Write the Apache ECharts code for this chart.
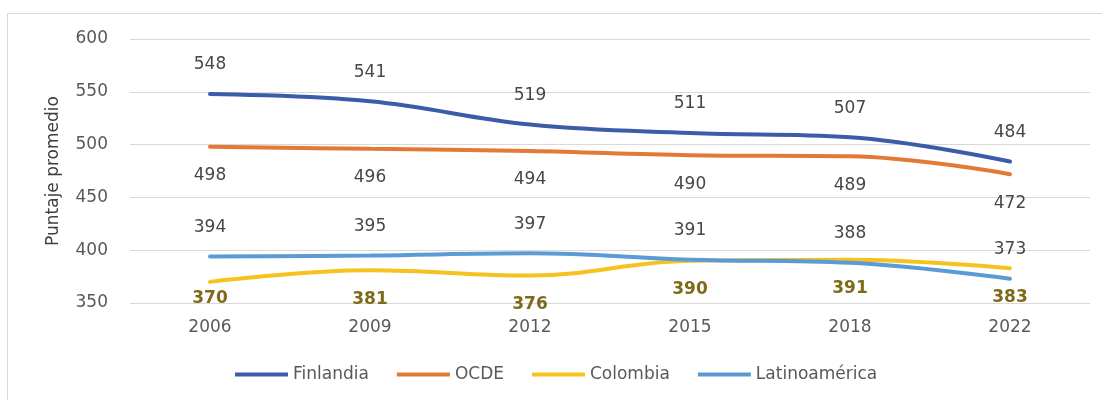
<!DOCTYPE html>
<html>
<head>
<meta charset="utf-8">
<title>Puntaje promedio PISA</title>
<script src="https://cdn.jsdelivr.net/npm/echarts@6/dist/echarts.min.js"></script>
<style>
  html, body { margin: 0; padding: 0; background: #ffffff; }
  #chart { width: 1102px; height: 400px; }
</style>
</head>
<body>
<div id="chart"></div>
<script>
// Years of each assessment round
const years = ['2006', '2009', '2012', '2015', '2018', '2022'];

// Average score per group
const finlandia = [548, 541, 519, 511, 507, 484];
const ocde = [498, 496, 494, 490, 489, 472];
const colombia = [370, 381, 376, 390, 391, 383];
const latinoamerica = [394, 395, 397, 391, 388, 373];

// Y axis range
const yMin = 350;
const yMax = 600;
const yStep = 50;

const FONT = 'DejaVu Sans';
const TEXT = '#595959';
const VALUE_TEXT = '#474747';

const chart = echarts.init(document.getElementById('chart'), null, { renderer: 'canvas' });

function lineSeries(name, data, color, labelPos, labelStyle) {
  return {
    name: name,
    type: 'line',
    data: data,
    smooth: 0.4,
    // tiny marker hidden under the line so the value labels are kept
    symbol: 'circle',
    symbolSize: 1,
    showSymbol: true,
    lineStyle: { color: color, width: 4, cap: 'round' },
    itemStyle: { color: color },
    label: Object.assign({
      show: true,
      position: labelPos,
      distance: 20,
      fontFamily: FONT,
      fontSize: 17,
      color: VALUE_TEXT
    }, labelStyle || {}),
    labelLayout: { hideOverlap: false },
    emphasis: { disabled: true },
    z: 2
  };
}

// The first Colombia label sits closer to its line
const colombiaData = colombia.map((v, i) => i === 0 ? { value: v, label: { distance: 8 } } : v);

chart.setOption({
  backgroundColor: '#ffffff',
  animation: false,
  graphic: [{
    type: 'rect',
    shape: { x: 7.5, y: 13.5, width: 1200, height: 500 },
    style: { fill: 'none', stroke: '#d9d9d9', lineWidth: 1 },
    silent: true
  }],
  grid: { left: 130, right: 12, top: 39, bottom: 97 },
  legend: {
    left: 235,
    top: 366,
    padding: 0,
    itemGap: 28,
    itemWidth: 53,
    itemHeight: 4,
    icon: 'rect',
    textStyle: { fontFamily: FONT, fontSize: 17, color: TEXT },
    data: ['Finlandia', 'OCDE', 'Colombia', 'Latinoamérica']
  },
  xAxis: {
    type: 'category',
    data: years,
    boundaryGap: true,
    axisLine: { show: false },
    axisTick: { show: false },
    axisLabel: { fontFamily: FONT, fontSize: 17, color: TEXT, margin: 16 }
  },
  yAxis: {
    type: 'value',
    min: yMin,
    max: yMax,
    interval: yStep,
    name: 'Puntaje promedio',
    nameLocation: 'middle',
    nameGap: 68,
    nameTextStyle: { fontFamily: FONT, fontSize: 17, color: '#404040' },
    axisLine: { show: false },
    axisTick: { show: false },
    axisLabel: { fontFamily: FONT, fontSize: 17, color: TEXT, margin: 22 },
    splitLine: { lineStyle: { color: '#d9d9d9', width: 1 } }
  },
  series: [
    lineSeries('Finlandia', finlandia, '#3b5ca8', 'top'),
    lineSeries('OCDE', ocde, '#e27a36', 'bottom'),
    lineSeries('Colombia', colombiaData, '#f5c21e', 'bottom', { color: '#7f6a1a', fontWeight: 'bold' }),
    lineSeries('Latinoamérica', latinoamerica, '#5b9bd5', 'top')
  ]
});
</script>
</body>
</html>
